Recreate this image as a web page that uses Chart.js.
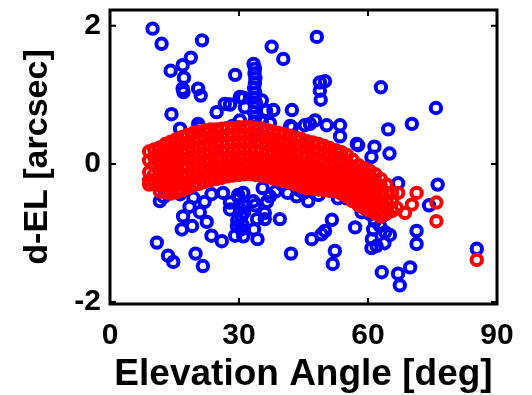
<!DOCTYPE html>
<html>
<head>
<meta charset="utf-8">
<script src="https://cdn.jsdelivr.net/npm/chart.js@4.4.0/dist/chart.umd.min.js"></script>
<style>
    html, body { margin: 0; padding: 0; background: #fff; }
</style>
</head>
<body>
<canvas id="elChart" width="532" height="395"></canvas>
<script>
// Measured elevation offsets (blue)
const measElev = [
    9.9, 12.0, 21.4, 18.8, 16.9, 14.1, 17.2, 16.9, 17.1, 20.5,
    21.1, 29.1, 14.3, 16.3, 20.5, 24.8, 27.9, 30.2, 30.2, 26.7,
    31.4, 48.1, 37.6, 40.3,
    33.4, 33.7, 33.6, 33.8, 33.7, 33.5, 33.8, 33.6, 33.9, 33.7, 33.5, 33.8, 33.6, 33.7, 33.9, 33.6,
    48.8, 50.0, 48.8, 49.0, 42.3, 38.0, 35.3, 31.0, 42.3, 46.5,
    47.7, 50.4, 53.5, 53.5, 57.7, 60.8, 45.7, 63.0, 75.8, 70.2,
    64.7, 61.5, 65.0, 36.3, 37.2, 41.9, 24.8, 20.9, 28.5, 23.0,
    35.3, 45.3, 57.4,
    11.6, 16.3, 19.4, 17.0, 16.7, 20.9, 19.1, 22.5, 23.6, 26.0,
    10.9, 13.5, 14.7, 19.9, 21.6, 29.1, 29.5, 30.6, 31.0, 27.9,
    27.9, 26.3, 23.6, 34.3, 36.0, 36.0, 39.5, 42.1, 41.3, 43.4,
    46.9, 49.2, 50.0, 51.6, 52.3, 51.8, 57.0, 46.1, 45.0, 60.5,
    61.6, 62.8, 64.0, 62.0, 65.1, 60.9, 71.3, 71.3, 63.2, 67.0,
    69.8, 67.4, 76.2, 67.0, 74.2, 85.3, 33.3, 31.0, 37.2, 29.8,
    30.2, 29.6, 30.5, 33.8, 34.2, 33.5, 30.0, 31.2, 30.8, 31.0,
    22.0, 18.5, 12.5, 38.5, 35.5, 36.5, 40.0, 44.0, 48.5, 53.0,
    55.0, 58.5, 61.0, 63.5, 61.2, 63.8, 60.8,
    25.0, 32.0, 40.0, 45.0, 15.0, 52.0
];
const measOffset = [
    1.96, 1.74, 1.79, 1.54, 1.43, 1.35, 1.25, 1.09, 1.04, 1.09,
    0.99, 1.29, 0.72, 0.51, 0.58, 0.75, 0.86, 0.97, 0.63, 0.87,
    0.82, 1.84, 1.70, 1.52,
    1.45, 1.38, 1.31, 1.24, 1.17, 1.10, 1.03, 0.96, 0.89, 0.82, 0.75, 0.68, 0.61, 0.54, 0.47, 0.40,
    1.18, 1.20, 1.06, 0.93, 0.78, 0.78, 0.92, 0.96, 0.53, 0.58,
    0.63, 0.56, 0.56, 0.40, 0.27, 0.10, 0.30, 1.11, 0.81, 0.58,
    0.50, 0.25, 0.15, 0.77, 0.59, 0.55, 0.49, 0.53, 0.55, 0.45,
    0.61, 0.56, 0.29,
    -0.54, -0.44, -0.49, -0.76, -0.95, -0.70, -0.90, -0.84, -1.04, -1.12,
    -1.14, -1.33, -1.42, -1.30, -1.48, -1.04, -0.90, -0.76, -0.61, -0.56,
    -0.66, -0.42, -0.44, -1.09, -0.71, -0.80, -0.80, -1.30, -0.42, -0.47,
    -1.09, -1.02, -0.97, -0.81, -1.26, -1.45, -0.92, -0.54, -0.42, -0.73,
    -0.83, -0.90, -0.99, -1.19, -1.03, -1.09, -0.97, -1.16, -1.57, -1.59,
    -1.50, -1.76, -0.30, -0.28, -0.60, -1.23, -0.54, -0.42, -0.47, -0.45,
    -0.65, -0.82, -0.95, -0.60, -0.80, -0.95, -0.50, -0.70, -0.88, -1.05,
    -0.55, -0.62, -0.48, -0.40, -0.35, -0.55, -0.30, -0.38, -0.45, -0.50,
    -0.50, -0.70, -0.60, -0.75, -0.95, -1.15, -1.22,
    0.10, 0.00, 0.20, -0.10, 0.00, 0.00
];

// Pointing model prediction (red), grouped by elevation
const modelElev = [
    9.1, 10.3, 11.6, 12.9, 14.1, 15.5, 16.8, 18.0, 19.4, 20.7,
    22.0, 23.3, 24.7, 26.0, 27.3, 28.6, 30.0, 31.3, 32.6, 33.9,
    35.2, 36.6, 37.9, 39.2, 40.5, 41.9, 43.2, 44.5, 45.8, 47.2,
    48.5, 49.8, 51.1, 52.5, 53.8, 55.1, 56.4, 57.8, 59.1, 60.4,
    61.7, 63.0, 64.3, 65.6, 66.7, 67.0, 68.6, 70.2, 71.3, 75.9,
    85.3
];
const modelOffset = [
    [0.18, 0.05, -0.12, -0.24, -0.30],
    [0.21, 0.10, -0.02, -0.15, -0.29],
    [0.24, 0.13, 0.03, -0.09, -0.21, -0.31, -0.40],
    [0.29, 0.17, 0.05, -0.04, -0.16, -0.27, -0.41],
    [0.32, 0.22, 0.10, -0.01, -0.13, -0.22, -0.35, -0.43],
    [0.36, 0.24, 0.14, 0.02, -0.09, -0.20, -0.30, -0.41],
    [0.39, 0.29, 0.16, 0.06, -0.06, -0.17, -0.28, -0.38],
    [0.42, 0.31, 0.20, 0.08, -0.03, -0.15, -0.26, -0.35],
    [0.45, 0.33, 0.23, 0.11, 0.00, -0.10, -0.21, -0.31],
    [0.47, 0.36, 0.24, 0.13, 0.03, -0.09, -0.19, -0.29],
    [0.48, 0.37, 0.27, 0.15, 0.04, -0.06, -0.17, -0.26],
    [0.50, 0.38, 0.28, 0.17, 0.06, -0.05, -0.15, -0.24],
    [0.50, 0.40, 0.29, 0.18, 0.07, -0.03, -0.13, -0.22],
    [0.51, 0.41, 0.30, 0.19, 0.08, -0.02, -0.12, -0.20],
    [0.52, 0.41, 0.31, 0.20, 0.09, -0.01, -0.11, -0.18],
    [0.52, 0.42, 0.31, 0.20, 0.10, 0.00, -0.09, -0.17],
    [0.53, 0.43, 0.32, 0.21, 0.10, 0.01, -0.10, -0.16],
    [0.53, 0.42, 0.32, 0.22, 0.11, 0.00, -0.09, -0.15],
    [0.53, 0.43, 0.31, 0.21, 0.10, 0.01, -0.10, -0.15],
    [0.52, 0.42, 0.31, 0.20, 0.09, -0.01, -0.11, -0.16],
    [0.51, 0.40, 0.30, 0.18, 0.08, -0.03, -0.12, -0.17],
    [0.49, 0.38, 0.28, 0.17, 0.06, -0.04, -0.14, -0.19],
    [0.47, 0.36, 0.26, 0.15, 0.04, -0.06, -0.15, -0.21],
    [0.45, 0.34, 0.23, 0.13, 0.02, -0.08, -0.17, -0.23],
    [0.43, 0.32, 0.21, 0.10, 0.00, -0.10, -0.19, -0.25],
    [0.41, 0.30, 0.19, 0.08, -0.02, -0.12, -0.21, -0.27],
    [0.38, 0.27, 0.16, 0.05, -0.05, -0.15, -0.24, -0.30],
    [0.36, 0.25, 0.13, 0.02, -0.08, -0.18, -0.27, -0.33],
    [0.33, 0.22, 0.11, 0.00, -0.11, -0.21, -0.29, -0.35],
    [0.31, 0.20, 0.08, -0.03, -0.13, -0.23, -0.31, -0.36],
    [0.29, 0.17, 0.06, -0.05, -0.16, -0.26, -0.33, -0.37],
    [0.26, 0.15, 0.03, -0.08, -0.18, -0.28, -0.35, -0.38],
    [0.23, 0.12, 0.00, -0.11, -0.21, -0.30, -0.37, -0.39],
    [0.20, 0.09, -0.03, -0.14, -0.24, -0.33, -0.40],
    [0.17, 0.06, -0.06, -0.17, -0.27, -0.36, -0.43],
    [0.13, 0.02, -0.10, -0.21, -0.31, -0.40, -0.47],
    [0.06, -0.05, -0.16, -0.27, -0.37, -0.46, -0.54],
    [-0.02, -0.13, -0.24, -0.34, -0.44, -0.53, -0.60],
    [-0.06, -0.17, -0.28, -0.38, -0.48, -0.57, -0.64],
    [-0.10, -0.21, -0.32, -0.42, -0.52, -0.61, -0.68],
    [-0.15, -0.26, -0.37, -0.47, -0.57, -0.66, -0.72],
    [-0.22, -0.33, -0.44, -0.54, -0.64, -0.72, -0.76],
    [-0.30, -0.42, -0.53, -0.63, -0.72],
    [-0.42, -0.55, -0.68],
    [-0.64],
    [-0.42],
    [-0.71],
    [-0.59],
    [-0.42],
    [-0.56, -0.83],
    [-1.39]
];

const xTicks = [0, 30, 60, 90];
const yTicks = [-2, 0, 2];

const measPoints = measElev.map((el, i) => ({ x: el, y: measOffset[i] }));
const modelPoints = [];
modelElev.forEach((el, i) => {
    modelOffset[i].forEach(v => modelPoints.push({ x: el, y: v }));
});

const fontFamily = 'Liberation Sans, Arial, Helvetica, sans-serif';

// Box around the axes with inward tick marks on all four sides
const boxFrame = {
    id: 'boxFrame',
    afterDraw(chart) {
        const { ctx, chartArea: a, scales } = chart;
        const tl = 6;
        ctx.save();
        ctx.strokeStyle = '#000';
        ctx.lineWidth = 3;
        ctx.strokeRect(a.left, a.top, a.right - a.left, a.bottom - a.top);
        ctx.lineWidth = 2;
        ctx.beginPath();
        xTicks.forEach(v => {
            const px = scales.x.getPixelForValue(v);
            ctx.moveTo(px, a.bottom); ctx.lineTo(px, a.bottom - tl);
            ctx.moveTo(px, a.top); ctx.lineTo(px, a.top + tl);
        });
        yTicks.forEach(v => {
            const py = scales.y.getPixelForValue(v);
            ctx.moveTo(a.left, py); ctx.lineTo(a.left + tl, py);
            ctx.moveTo(a.right, py); ctx.lineTo(a.right - tl, py);
        });
        ctx.stroke();
        ctx.restore();
    }
};

const ringStyle = {
    pointStyle: 'circle',
    pointRadius: 5.2,
    pointBorderWidth: 4,
    backgroundColor: 'rgba(0,0,0,0)'
};

new Chart(document.getElementById('elChart'), {
    type: 'scatter',
    data: {
        datasets: [
            Object.assign({ label: 'Model', data: modelPoints, order: 0, borderColor: '#ff0000' }, ringStyle),
            Object.assign({ label: 'Measured', data: measPoints, order: 1, borderColor: '#0000ff' }, ringStyle)
        ]
    },
    options: {
        responsive: false,
        animation: false,
        layout: { padding: { top: 10, right: 35, left: 0, bottom: 0 } },
        plugins: {
            legend: { display: false },
            tooltip: { enabled: false }
        },
        scales: {
            x: {
                type: 'linear',
                min: 0,
                max: 90,
                afterBuildTicks: scale => { scale.ticks = xTicks.map(v => ({ value: v })); },
                afterFit: scale => {
                    scale.height = 91;
                    scale.paddingLeft = 0;
                    scale.paddingRight = 0;
                },
                grid: { display: false, drawTicks: false },
                border: { display: false },
                ticks: {
                    padding: 14,
                    color: '#000',
                    font: { family: fontFamily, size: 30, weight: 'bold' }
                },
                title: {
                    display: true,
                    text: 'Elevation Angle [deg]',
                    color: '#000',
                    padding: { top: 0, bottom: 2 },
                    font: { family: fontFamily, size: 37, weight: 'bold', lineHeight: 1 }
                }
            },
            y: {
                type: 'linear',
                min: -2.03,
                max: 2.23,
                afterBuildTicks: scale => { scale.ticks = yTicks.map(v => ({ value: v })); },
                afterFit: scale => {
                    scale.width = 110;
                    scale.paddingTop = 0;
                    scale.paddingBottom = 0;
                },
                grid: { display: false, drawTicks: false },
                border: { display: false },
                ticks: {
                    padding: 9,
                    color: '#000',
                    font: { family: fontFamily, size: 30, weight: 'bold' }
                },
                title: {
                    display: true,
                    text: 'd-EL [arcsec]',
                    color: '#000',
                    padding: { top: 21, bottom: 0 },
                    font: { family: fontFamily, size: 34, weight: 'bold', lineHeight: 1 }
                }
            }
        }
    },
    plugins: [boxFrame]
});
</script>
</body>
</html>
